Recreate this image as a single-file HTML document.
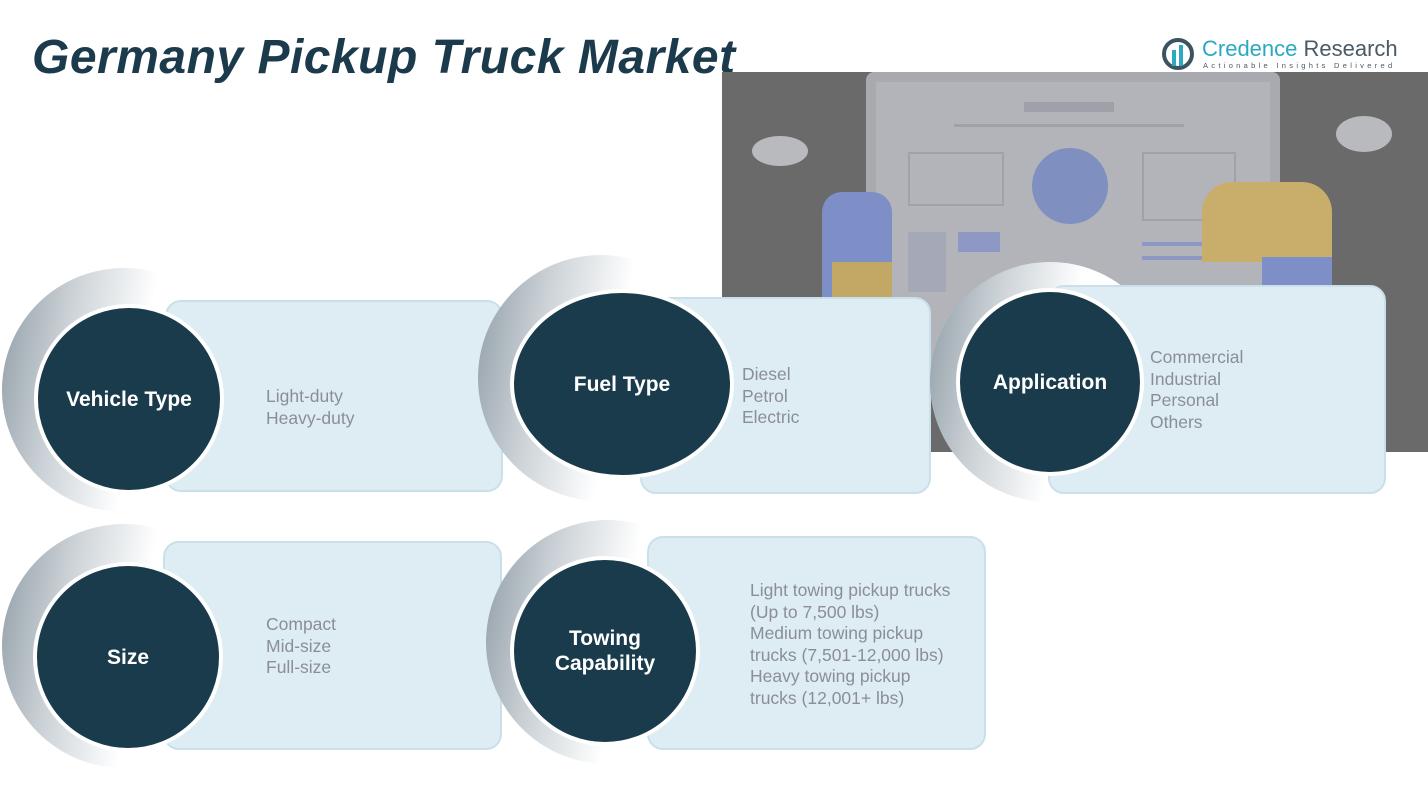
<!DOCTYPE html>
<html><head><meta charset="utf-8"><style>
body{margin:0;width:1428px;height:804px;background:#fff;position:relative;overflow:hidden;font-family:"Liberation Sans",sans-serif}
.a{position:absolute}
h1{position:absolute;left:32px;top:30px;margin:0;font-size:48px;font-style:italic;font-weight:bold;color:#1b3a4b;letter-spacing:0.5px}
.cr{position:absolute;border-radius:50%;background:linear-gradient(100deg,#8e9ba4 0%,#c9d0d5 25%,#fff 55%)}
.bx{position:absolute;background:#deedf4;border:2px solid #c9e0ea;border-radius:16px;box-sizing:border-box}
.ci{position:absolute;border-radius:50%;background:#193b4b;border:4px solid #fff;box-sizing:border-box;color:#fff;font-weight:bold;font-size:21px;display:flex;align-items:center;justify-content:center;text-align:center;line-height:25px}
.tx{position:absolute;color:#8a8f93;font-size:17.5px;line-height:21.5px}
</style></head><body>
<h1>Germany Pickup Truck Market</h1>
<div class="a" style="left:1162px;top:38px;width:32px;height:32px;border-radius:50%;border:4px solid #3d5360;box-sizing:border-box"></div>
<div class="a" style="left:1172px;top:50px;width:4px;height:16px;background:#2aa9c0"></div>
<div class="a" style="left:1179px;top:45px;width:4px;height:21px;background:#2aa9c0"></div>
<div class="a" style="left:1202px;top:36px;font-size:22px;color:#2aa9c0">Credence <span style="color:#4a5a66">Research</span></div>
<div class="a" style="left:1203px;top:61px;font-size:7.5px;letter-spacing:3.3px;color:#4a5a66">Actionable Insights Delivered</div>
<div class="a" style="left:722px;top:72px;width:706px;height:380px;background:#6a6a6a;overflow:hidden">
 <div class="a" style="left:144px;top:0;width:414px;height:300px;background:#a9aab0;border-radius:8px"></div>
 <div class="a" style="left:154px;top:10px;width:394px;height:290px;background:#b3b4b9"></div>
 <div class="a" style="left:302px;top:30px;width:90px;height:10px;background:#9ea0aa"></div>
 <div class="a" style="left:232px;top:52px;width:230px;height:3px;background:#a0a2ab"></div>
 <div class="a" style="left:310px;top:76px;width:76px;height:76px;border-radius:50%;background:#7f8fc0"></div>
 <div class="a" style="left:186px;top:80px;width:92px;height:50px;border:2px solid #a0a2aa"></div>
 <div class="a" style="left:420px;top:80px;width:90px;height:65px;border:2px solid #a0a2aa"></div>
 <div class="a" style="left:186px;top:160px;width:38px;height:60px;background:#a5a8b6"></div>
 <div class="a" style="left:236px;top:160px;width:42px;height:20px;background:#8d98c4"></div>
 <div class="a" style="left:420px;top:170px;width:90px;height:4px;background:#8d98c4"></div>
 <div class="a" style="left:420px;top:184px;width:80px;height:4px;background:#8d98c4"></div>
 <div class="a" style="left:100px;top:120px;width:70px;height:120px;background:#7e8fc7;border-radius:20px 20px 0 0"></div>
 <div class="a" style="left:110px;top:190px;width:60px;height:50px;background:#c3a764"></div>
 <div class="a" style="left:480px;top:110px;width:130px;height:80px;background:#c9ad6a;border-radius:30px 30px 0 0"></div>
 <div class="a" style="left:540px;top:185px;width:70px;height:40px;background:#7e8fc7"></div>
 <div class="a" style="left:30px;top:64px;width:56px;height:30px;border-radius:50%;background:#b9babe"></div>
 <div class="a" style="left:614px;top:44px;width:56px;height:36px;border-radius:50%;background:#b9babe"></div>
</div>
<div class="cr" style="left:2px;top:268px;width:244px;height:244px"></div>
<div class="bx" style="left:165px;top:300px;width:338px;height:192px"></div>
<div class="ci" style="left:34px;top:304px;width:190px;height:190px">Vehicle Type</div>
<div class="tx" style="left:266px;top:386px">Light-duty<br>Heavy-duty</div>
<div class="cr" style="left:478px;top:255px;width:246px;height:246px"></div>
<div class="bx" style="left:640px;top:297px;width:291px;height:197px"></div>
<div class="ci" style="left:510px;top:289px;width:224px;height:190px;border-radius:50%">Fuel Type</div>
<div class="tx" style="left:742px;top:364px">Diesel<br>Petrol<br>Electric</div>
<div class="cr" style="left:930px;top:262px;width:240px;height:240px"></div>
<div class="bx" style="left:1048px;top:285px;width:338px;height:209px"></div>
<div class="ci" style="left:956px;top:288px;width:188px;height:188px">Application</div>
<div class="tx" style="left:1150px;top:347px">Commercial<br>Industrial<br>Personal<br>Others</div>
<div class="cr" style="left:2px;top:524px;width:244px;height:244px"></div>
<div class="bx" style="left:163px;top:541px;width:339px;height:209px"></div>
<div class="ci" style="left:33px;top:562px;width:190px;height:190px">Size</div>
<div class="tx" style="left:266px;top:614px">Compact<br>Mid-size<br>Full-size</div>
<div class="cr" style="left:486px;top:520px;width:244px;height:244px"></div>
<div class="bx" style="left:647px;top:536px;width:339px;height:214px"></div>
<div class="ci" style="left:510px;top:556px;width:190px;height:190px">Towing<br>Capability</div>
<div class="tx" style="left:750px;top:580px">Light towing pickup trucks<br>(Up to 7,500 lbs)<br>Medium towing pickup<br>trucks (7,501-12,000 lbs)<br>Heavy towing pickup<br>trucks (12,001+ lbs)</div>
</body></html>
